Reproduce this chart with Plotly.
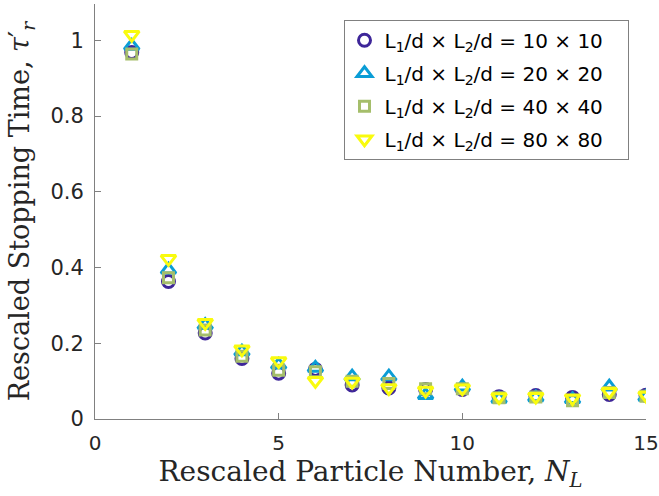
import plotly.graph_objects as go

x_vals = list(range(1, 16))
labels = ["10 × 10", "20 × 20", "40 × 40", "80 × 80"]
tau_10 = [0.968, 0.363, 0.227, 0.160, 0.121, 0.131, 0.090, 0.082, 0.078, 0.078, 0.059, 0.062, 0.057, 0.065, 0.063]
tau_20 = [0.985, 0.394, 0.248, 0.178, 0.143, 0.135, 0.112, 0.112, 0.063, 0.085, 0.053, 0.057, 0.052, 0.085, 0.058]
tau_40 = [0.964, 0.373, 0.235, 0.166, 0.129, 0.125, 0.100, 0.094, 0.080, 0.080, 0.056, 0.058, 0.048, 0.070, 0.060]
tau_80 = [1.015, 0.423, 0.254, 0.184, 0.153, 0.101, 0.099, 0.082, 0.075, 0.081, 0.058, 0.059, 0.055, 0.072, 0.062]

series = [tau_10, tau_20, tau_40, tau_80]
colors = ["#3e2699", "#0a9dd6", "#a5be6b", "#f9fb0e"]
symbols = ["circle", "triangle-up", "square", "triangle-down"]
sizes = [12, 13, 10, 13]

fig = go.Figure()
for i, (lab, ys, c, s, sz) in enumerate(zip(labels, series, colors, symbols, sizes)):
    fig.add_trace(go.Scatter(
        x=x_vals, y=ys, mode="markers",
        name="L<sub>1</sub>/d × L<sub>2</sub>/d = " + lab + "\u00a0\u00a0\u00a0",
        legendgroup="g%d" % i,
        marker=dict(symbol=s, color="rgba(255,255,255,0)", size=sz,
                    line=dict(width=3, color=c)),
    ))

axis_common = dict(
    showline=True, linecolor="#808080", linewidth=1,
    ticks="inside", ticklen=6, tickcolor="#808080", tickwidth=1,
    showgrid=False, zeroline=False, mirror=False, automargin=False,
    ticklabeloverflow="allow",
)

fig.update_layout(
    width=659, height=496,
    margin=dict(l=95, r=13, t=4, b=77),
    paper_bgcolor="white", plot_bgcolor="white",
    xaxis=dict(range=[0, 15.0001], tickvals=[0, 5, 10, 15], **axis_common,
               ticklabelstandoff=6,
               tickfont=dict(family="DejaVu Sans", size=20, color="#262626"),
               title=dict(text="Rescaled Particle Number, <i>N<sub>L</sub></i>",
                          font=dict(family="DejaVu Serif", size=28, color="#262626"), standoff=6)),
    yaxis=dict(range=[0, 1.096], tickvals=[0, 0.2, 0.4, 0.6, 0.8, 1],
               ticktext=["0", "0.2", "0.4", "0.6", "0.8", "1"], **axis_common,
               ticklabelstandoff=6,
               tickfont=dict(family="DejaVu Sans", size=21, color="#262626"),
               title=dict(text="Rescaled Stopping Time, <i>τ</i>′<sub><i>r</i></sub>",
                          font=dict(family="DejaVu Serif", size=27, color="#262626"), standoff=12)),
    legend=dict(x=0.451, y=0.962, xanchor="left", yanchor="top",
                bgcolor="white", bordercolor="#808080", borderwidth=1,
                font=dict(family="DejaVu Sans", size=20, color="#000000"),
                tracegroupgap=4),
    showlegend=True,
)

fig.write_html("out.html", config={"displayModeBar": False},
               post_script="document.body.style.margin='0px';")
